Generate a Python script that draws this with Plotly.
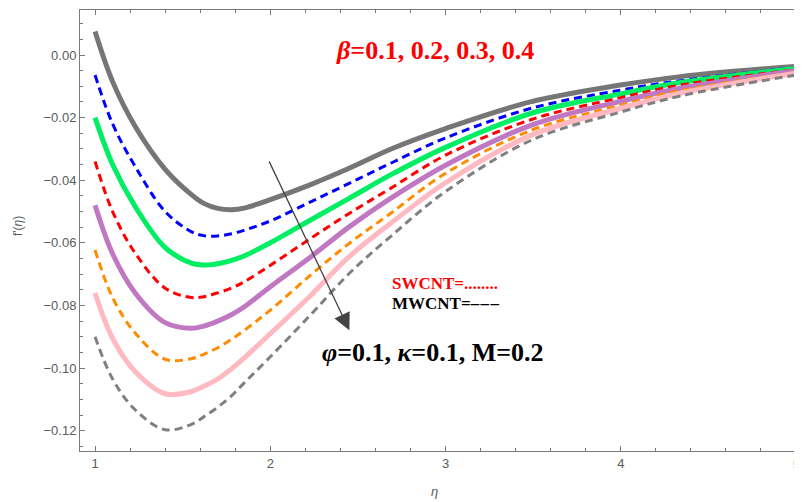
import plotly.graph_objects as go

# ---- data ----
eta = [1.0, 1.1, 1.23, 1.4, 1.55, 1.62, 1.7, 1.78, 1.85, 2.0, 2.23, 2.45, 2.686, 3.0, 3.49, 4.0, 4.34, 5.0]

gray_solid = [0.0075, -0.0085, -0.0229, -0.0365, -0.0446, -0.0474, -0.0490, -0.0494, -0.0489, -0.0462, -0.0414, -0.0362, -0.0301, -0.0235, -0.0149, -0.0096, -0.0069, -0.0036]
blue_dash = [-0.0064, -0.0220, -0.0357, -0.0500, -0.0565, -0.0577, -0.0578, -0.0571, -0.0560, -0.0530, -0.0469, -0.0410, -0.0346, -0.0265, -0.0170, -0.0112, -0.0082, -0.0040]
green_solid = [-0.0200, -0.0350, -0.0485, -0.0615, -0.0665, -0.0671, -0.0667, -0.0656, -0.0642, -0.0600, -0.0527, -0.0458, -0.0383, -0.0295, -0.0186, -0.0124, -0.0088, -0.0043]
red_dash = [-0.0340, -0.0500, -0.0634, -0.0745, -0.0775, -0.0772, -0.0760, -0.0744, -0.0725, -0.0672, -0.0586, -0.0506, -0.0426, -0.0320, -0.0206, -0.0136, -0.0096, -0.0047]
purple_solid = [-0.0480, -0.0635, -0.0761, -0.0855, -0.0873, -0.0866, -0.0850, -0.0829, -0.0805, -0.0740, -0.0645, -0.0549, -0.0458, -0.0352, -0.0224, -0.0148, -0.0106, -0.0050]
orange_dash = [-0.0623, -0.0775, -0.0889, -0.0972, -0.0970, -0.0956, -0.0935, -0.0908, -0.0880, -0.0815, -0.0703, -0.0602, -0.0506, -0.0378, -0.0240, -0.0160, -0.0114, -0.0055]
pink_solid = [-0.0760, -0.0905, -0.1012, -0.1082, -0.1075, -0.1058, -0.1035, -0.1002, -0.0968, -0.0890, -0.0768, -0.0644, -0.0538, -0.0408, -0.0256, -0.0170, -0.0122, -0.0058]
gray_dash = [-0.0900, -0.1035, -0.1134, -0.1197, -0.1180, -0.1156, -0.1125, -0.1088, -0.1048, -0.0964, -0.0830, -0.0698, -0.0580, -0.0436, -0.0272, -0.0182, -0.0131, -0.0064]

x_ticks = [1, 2, 3, 4, 5]
y_ticks = [0.0, -0.02, -0.04, -0.06, -0.08, -0.10, -0.12]

series = [
    (gray_solid, "rgb(118,118,118)", "solid", 5),
    (blue_dash, "rgb(0,0,255)", "8px,5px", 3),
    (green_solid, "rgb(0,238,100)", "solid", 5),
    (red_dash, "rgb(255,0,0)", "8px,5px", 3),
    (purple_solid, "rgb(192,120,195)", "solid", 5),
    (orange_dash, "rgb(255,140,0)", "8px,5px", 3),
    (pink_solid, "rgb(255,185,192)", "solid", 5),
    (gray_dash, "rgb(128,128,128)", "8px,5px", 3),
]

fig = go.Figure()
for ys, col, dash, w in series:
    fig.add_trace(go.Scatter(
        x=eta, y=ys, mode="lines",
        line=dict(color=col, width=w, dash=dash, shape="spline", smoothing=1.0),
        showlegend=False, hoverinfo="skip"))

axis_col = "#7a7a7a"
tick_font = dict(family="Liberation Sans, Arial, sans-serif", size=13, color="#5a5a5a")

# page body has an 8px margin, so the figure is 794x494 and sits at (8, 8)
# plot area in page pixels: x 80..802, y 10..451
fig.update_layout(
    width=794, height=494,
    margin=dict(l=72, r=0, t=2, b=51),
    paper_bgcolor="white", plot_bgcolor="white",
    xaxis=dict(
        range=[0.914, 5.034], showgrid=False, zeroline=False, automargin=False,
        showline=True, linecolor=axis_col, linewidth=1, mirror="ticks",
        ticks="inside", ticklen=5, tickcolor=axis_col, tickwidth=1,
        tickvals=x_ticks, ticktext=[str(v) if v != 5 else " " for v in x_ticks],
        tickfont=tick_font,
        minor=dict(dtick=0.2, tick0=1, ticks="inside", ticklen=3, tickcolor=axis_col, showgrid=False),
    ),
    yaxis=dict(
        range=[-0.1265, 0.01438], showgrid=False, zeroline=False, automargin=False,
        showline=True, linecolor=axis_col, linewidth=1, mirror=False,
        ticks="inside", ticklen=5, tickcolor=axis_col, tickwidth=1,
        tickvals=y_ticks, tickformat=".2f",
        tickfont=tick_font,
        minor=dict(dtick=0.005, tick0=0, ticks="inside", ticklen=3, tickcolor=axis_col, showgrid=False),
    ),
)

serif = "Liberation Serif, Times New Roman, serif"
PX0, PX1, PY0, PY1 = 80, 802, 10, 451

def px2paper(px, py):
    return (px - PX0) / (PX1 - PX0), 1 - (py - PY0) / (PY1 - PY0)

# last x tick label placed as annotation so it sits right at the tick
fig.add_annotation(x=x_ticks[-1], y=px2paper(0, 464)[1], xref="x", yref="paper",
                   text=str(x_ticks[-1]), showarrow=False, xanchor="center", yanchor="middle",
                   font=tick_font)

# arrow
fig.add_annotation(x=2.451, y=-0.0879, ax=1.989, ay=-0.0335, xref="x", yref="y", axref="x", ayref="y",
                   text="", showarrow=True, arrowhead=2, arrowsize=2.6, arrowwidth=1.3, arrowcolor="#444444")

def ann(px, py, text, size, color, xanchor="left"):
    x, y = px2paper(px, py)
    fig.add_annotation(
        x=x, y=y, xref="paper", yref="paper", xanchor=xanchor, yanchor="middle",
        text=text, showarrow=False, font=dict(family=serif, size=size, color=color))

ann(334, 50, "<b><i>β</i>=0.1, 0.2, 0.3, 0.4</b>", 26, "rgb(255,0,0)")
ann(390, 283, "<b>SWCNT=........</b>", 17, "rgb(255,0,0)")
ann(390, 303, "<b>MWCNT=\u2013\u200a\u2013\u200a\u2013</b>", 17, "black")
ann(320, 352, "<b><i>φ</i>=0.1, <i>κ</i>=0.1, M=0.2</b>", 26, "black")

# axis labels
x, y = px2paper(434, 491)
fig.add_annotation(x=x, y=y, xref="paper", yref="paper",
                   text="<i>η</i>", showarrow=False, xanchor="center", yanchor="middle",
                   font=dict(family="Liberation Sans, sans-serif", size=13, color="#5a5a5a"))
x, y = px2paper(18, 226)
fig.add_annotation(x=x, y=y, xref="paper", yref="paper",
                   text="f'(<i>η</i>)", showarrow=False, textangle=-90, xanchor="center", yanchor="middle",
                   font=dict(family="Liberation Sans, sans-serif", size=12, color="#5a5a5a"))

fig.write_html("out.html")
